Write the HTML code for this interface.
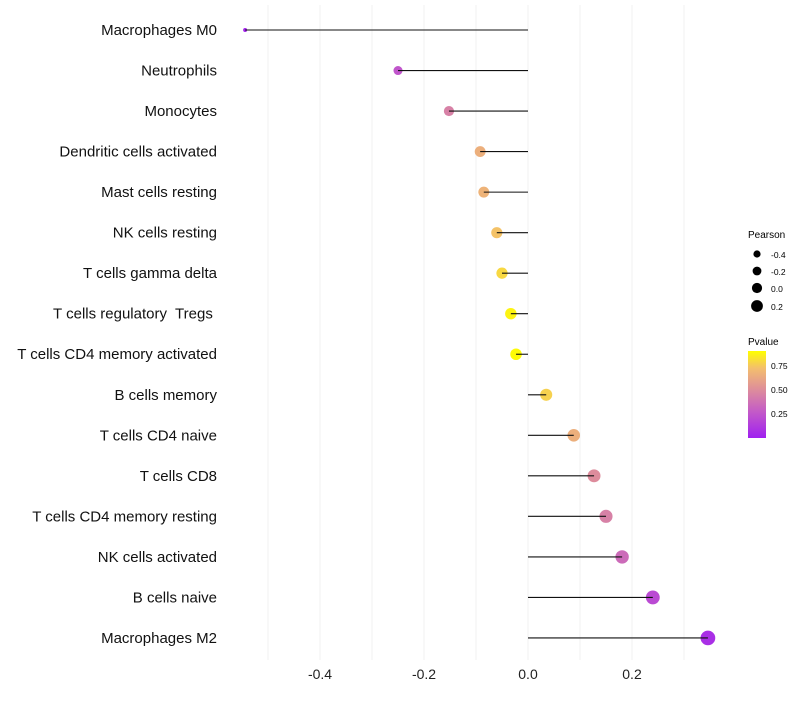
<!DOCTYPE html>
<html><head><meta charset="utf-8"><style>
body{margin:0;background:#fff;font-family:"Liberation Sans",sans-serif}
</style></head><body>
<svg id="chart" width="800" height="700" xmlns="http://www.w3.org/2000/svg">
<defs><linearGradient id="pg" x1="0" y1="1" x2="0" y2="0">
<stop offset="0" stop-color="#A020F0"/><stop offset="0.3" stop-color="#C35AC8"/><stop offset="0.55" stop-color="#DD8C9C"/><stop offset="0.8" stop-color="#F3BE6E"/><stop offset="1" stop-color="#FFFF00"/></linearGradient></defs>
<g id="grid"></g><g id="marks"></g><g id="labels"></g>
<g font-size="10">
<text x="748" y="238" font-size="10">Pearson</text>
<circle cx="757" cy="254" r="3.6"/><text x="771" y="258" font-size="8.5">-0.4</text>
<circle cx="757" cy="271" r="4.4"/><text x="771" y="275" font-size="8.5">-0.2</text>
<circle cx="757" cy="288" r="5.1"/><text x="771" y="292" font-size="8.5">0.0</text>
<circle cx="757" cy="306" r="5.9"/><text x="771" y="310" font-size="8.5">0.2</text>
<text x="748" y="345" font-size="10">Pvalue</text>
<rect x="748" y="351" width="18" height="87" fill="url(#pg)"/>
<text x="771" y="369" font-size="8.5">0.75</text>
<text x="771" y="393" font-size="8.5">0.50</text>
<text x="771" y="417" font-size="8.5">0.25</text>
</g>
</svg>
<script>
const cells=["Macrophages M0","Neutrophils","Monocytes","Dendritic cells activated","Mast cells resting","NK cells resting","T cells gamma delta","T cells regulatory  Tregs ","T cells CD4 memory activated","B cells memory","T cells CD4 naive","T cells CD8","T cells CD4 memory resting","NK cells activated","B cells naive","Macrophages M2"];
const pearson=[-0.544,-0.25,-0.152,-0.092,-0.085,-0.06,-0.05,-0.033,-0.023,0.035,0.088,0.127,0.15,0.181,0.24,0.346];
const pvalue=[0.02,0.25,0.45,0.66,0.68,0.74,0.8,0.88,0.9,0.78,0.66,0.5,0.45,0.35,0.2,0.07];
const ticks=[-0.4,-0.2,0.0,0.2];
const NS="http://www.w3.org/2000/svg";
const X=v=>528+v*520, Y=i=>30+i*40.53;
function mk(t,a,p){const e=document.createElementNS(NS,t);for(const k in a)e.setAttribute(k,a[k]);p.appendChild(e);return e;}
const stops=[[0,[160,32,240]],[0.3,[195,90,200]],[0.55,[221,140,156]],[0.8,[243,190,110]],[1,[255,255,0]]];
function col(p){const t=Math.min(1,Math.max(0,p/0.91));for(let i=1;i<stops.length;i++){if(t<=stops[i][0]){const a=stops[i-1],b=stops[i],f=(t-a[0])/(b[0]-a[0]);return 'rgb('+a[1].map((c,j)=>Math.round(c+(b[1][j]-c)*f)).join(',')+')';}}return 'rgb(255,255,0)';}
const grid=document.getElementById('grid'),marks=document.getElementById('marks'),labels=document.getElementById('labels');
for(let v=-0.5;v<=0.31;v+=0.1){const g=mk('line',{x1:X(v),x2:X(v),y1:5,y2:660,stroke:'#f2f2f2','stroke-width':1},grid);}
ticks.forEach(t=>{const e=mk('text',{x:X(t),y:679,'text-anchor':'middle','font-size':14,fill:'#222'},labels);e.textContent=t.toFixed(1);

});
const mn=Math.min(...pearson),mx=Math.max(...pearson);
cells.forEach((c,i)=>{
const r=Math.sqrt(4+(pearson[i]-mn)/(mx-mn)*(54-4));
const pt=mk('circle',{cx:X(pearson[i]),cy:Y(i),r:r,fill:col(pvalue[i])},marks);


const ln=mk('line',{x1:X(0),x2:X(pearson[i]),y1:Y(i),y2:Y(i),stroke:'#111','stroke-width':1.1},marks);


const tx=mk('text',{x:217,y:Y(i)+5,'text-anchor':'end','font-size':15,fill:'#111',style:'white-space:pre'},labels);tx.textContent=c;


});
</script>
</body></html>
